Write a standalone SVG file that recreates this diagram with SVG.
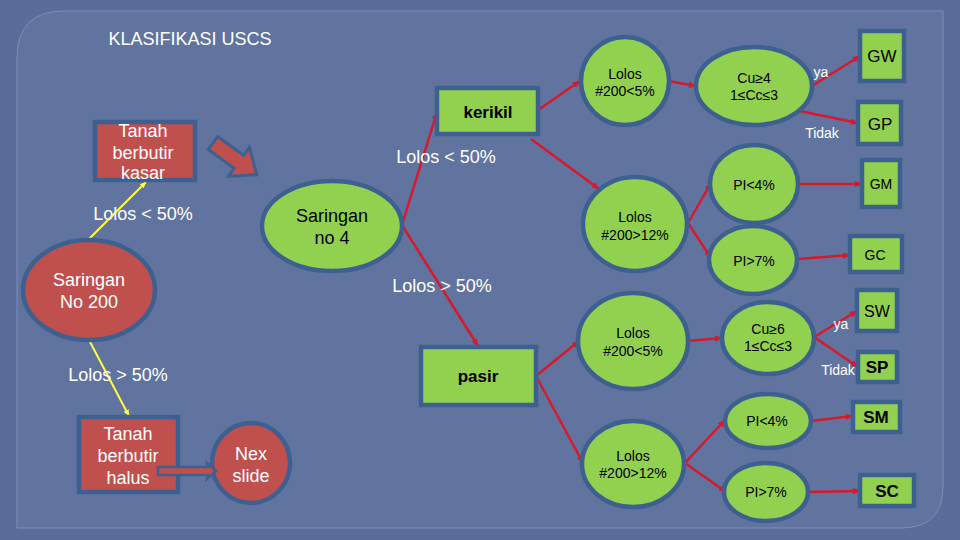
<svg xmlns="http://www.w3.org/2000/svg" width="960" height="540" viewBox="0 0 960 540">
<defs>
<marker id="ar" viewBox="0 0 10 10" refX="9" refY="5" markerWidth="3.2" markerHeight="3.2" orient="auto" markerUnits="strokeWidth"><path d="M0,1 L10,5 L0,9 z" fill="#d8182c"/></marker>
<marker id="ay" viewBox="0 0 10 10" refX="9" refY="5" markerWidth="3.5" markerHeight="3.5" orient="auto" markerUnits="strokeWidth"><path d="M0,1 L10,5 L0,9 z" fill="#ffff40"/></marker>
</defs>
<style>
.g{fill:#92d050;stroke:#3e6090;stroke-width:4.5}
.r{fill:#c0504d;stroke:#3e6090;stroke-width:4.5}
.t{font-family:"Liberation Sans",Arial,sans-serif;text-anchor:middle}
.w{fill:#ffffff;font-size:18px}
.b{fill:#000000;font-size:18px}
.s{fill:#000000;font-size:14px}
.sw{fill:#ffffff;font-size:14px}
.bb{fill:#000000;font-size:17px;font-weight:bold}
.cn{stroke:#d8182c;stroke-width:2.5;fill:none;marker-end:url(#ar)}
.yl{stroke:#ffff40;stroke-width:2;fill:none;marker-end:url(#ay)}
</style>
<rect x="0" y="0" width="960" height="540" fill="#5a6c9a"/>
<path d="M64,11 L943,11 L943,486 Q943,528 901,528 L17,528 L17,58 Q17,11 64,11 Z" fill="#61749f" stroke="#7d8eb8" stroke-width="1"/>
<text class="t w" x="190" y="45">KLASIFIKASI USCS</text>

<g id="connectors">
<line class="yl" x1="89" y1="239" x2="146" y2="182"/>
<line class="yl" x1="89" y1="340" x2="129" y2="416"/>
<line class="cn" x1="402" y1="225" x2="437" y2="112"/>
<line class="cn" x1="402" y1="225" x2="478" y2="346"/>
<line class="cn" x1="538" y1="110" x2="580" y2="81"/>
<line class="cn" x1="668" y1="81" x2="696" y2="86"/>
<line class="cn" x1="812" y1="86" x2="860" y2="56"/>
<line class="cn" x1="795" y1="110" x2="858" y2="123"/>
<line class="cn" x1="531" y1="139" x2="599" y2="189"/>
<line class="cn" x1="688" y1="223" x2="711" y2="183"/>
<line class="cn" x1="688" y1="223" x2="711" y2="258"/>
<line class="cn" x1="798" y1="184" x2="862" y2="184"/>
<line class="cn" x1="798" y1="259" x2="850" y2="255"/>
<line class="cn" x1="536" y1="376" x2="579" y2="341"/>
<line class="cn" x1="688" y1="341" x2="722" y2="338"/>
<line class="cn" x1="814" y1="337" x2="857" y2="311"/>
<line class="cn" x1="814" y1="337" x2="858" y2="367"/>
<line class="cn" x1="536" y1="376" x2="583" y2="463"/>
<line class="cn" x1="685" y1="463" x2="725" y2="420"/>
<line class="cn" x1="685" y1="463" x2="726" y2="492"/>
<line class="cn" x1="811" y1="421" x2="853" y2="416"/>
<line class="cn" x1="808" y1="492" x2="860" y2="491"/>
</g>

<g id="big-arrow">
<polygon transform="translate(213,143) rotate(36)" points="0,-8 32,-8 32,-18 54,0 32,18 32,8 0,8" fill="#c0504d" stroke="#3e6090" stroke-width="3"/>
</g>

<g id="tanah-kasar">
<rect class="r" x="95" y="122" width="100" height="58"/>
<text class="t w" x="143" y="137">Tanah</text>
<text class="t w" x="143" y="159">berbutir</text>
<text class="t w" x="143" y="179">kasar</text>
</g>

<text class="t w" x="143" y="220">Lolos &lt; 50%</text>

<g id="saringan-200">
<ellipse class="r" cx="89" cy="290" rx="66" ry="50"/>
<text class="t w" x="89" y="286">Saringan</text>
<text class="t w" x="89" y="308">No 200</text>
</g>

<text class="t w" x="118" y="381">Lolos &gt; 50%</text>

<g id="tanah-halus">
<rect class="r" x="79" y="417" width="99" height="75"/>
<text class="t w" x="128" y="440">Tanah</text>
<text class="t w" x="128" y="462">berbutir</text>
<text class="t w" x="128" y="484">halus</text>
</g>

<g id="nex-slide">
<ellipse class="r" cx="251" cy="463" rx="39" ry="40"/>
<text class="t w" x="251" y="460">Nex</text>
<text class="t w" x="251" y="482">slide</text>
</g>
<g id="small-arrow">
<polygon points="158,467 208,467 207,463 216,471 207,479 208,475 158,475" fill="#c0504d" stroke="#3e6090" stroke-width="2.5"/>
</g>

<g id="saringan-4">
<ellipse class="g" cx="332" cy="226" rx="70" ry="45"/>
<text class="t b" x="332" y="222">Saringan</text>
<text class="t b" x="332" y="244">no 4</text>
</g>

<text class="t w" x="446" y="163">Lolos &lt;  50%</text>
<text class="t w" x="442" y="292">Lolos &gt; 50%</text>

<g id="kerikil">
<rect class="g" x="437" y="88" width="101" height="46"/>
<text class="t bb" x="488" y="118">kerikil</text>
</g>
<g id="pasir">
<rect class="g" x="421" y="347" width="115" height="58"/>
<text class="t bb" x="478" y="382">pasir</text>
</g>

<g id="g-lolos5">
<ellipse class="g" cx="625" cy="81" rx="44" ry="44"/>
<text class="t s" x="625" y="79">Lolos</text>
<text class="t s" x="625" y="96">#200&lt;5%</text>
</g>
<g id="g-cu">
<ellipse class="g" cx="754" cy="86" rx="58" ry="39"/>
<text class="t s" x="754" y="83">Cu≥4</text>
<text class="t s" x="754" y="100">1≤Cc≤3</text>
</g>
<text class="t sw" x="821" y="77">ya</text>
<text class="t sw" x="822" y="138">Tidak</text>
<g id="gw"><rect class="g" x="860" y="31" width="44" height="50"/><text class="t b" x="882" y="62" style="font-size:17px">GW</text></g>
<g id="gp"><rect class="g" x="858" y="102" width="43" height="42"/><text class="t b" x="880" y="130" style="font-size:17px">GP</text></g>

<g id="g-lolos12">
<ellipse class="g" cx="635" cy="224" rx="52" ry="47"/>
<text class="t s" x="635" y="222">Lolos</text>
<text class="t s" x="635" y="240">#200&gt;12%</text>
</g>
<g id="g-pi4">
<ellipse class="g" cx="754" cy="184" rx="44" ry="39"/>
<text class="t s" x="754" y="190">PI&lt;4%</text>
</g>
<g id="g-pi7">
<ellipse class="g" cx="753" cy="260" rx="44" ry="34"/>
<text class="t s" x="754" y="266">PI&gt;7%</text>
</g>
<g id="gm"><rect class="g" x="862" y="160" width="38" height="47"/><text class="t s" x="881" y="189">GM</text></g>
<g id="gc"><rect class="g" x="850" y="236" width="52" height="36"/><text class="t s" x="875" y="260">GC</text></g>

<g id="s-lolos5">
<ellipse class="g" cx="633" cy="341" rx="55" ry="48"/>
<text class="t s" x="633" y="338">Lolos</text>
<text class="t s" x="633" y="356">#200&lt;5%</text>
</g>
<g id="s-cu">
<ellipse class="g" cx="768" cy="338" rx="46" ry="36"/>
<text class="t s" x="768" y="334">Cu≥6</text>
<text class="t s" x="768" y="351">1≤Cc≤3</text>
</g>
<text class="t sw" x="841" y="329">ya</text>
<text class="t sw" x="838" y="375">Tidak</text>
<g id="sw"><rect class="g" x="857" y="290" width="40" height="41"/><text class="t b" x="877" y="317" style="font-size:16px">SW</text></g>
<g id="sp"><rect class="g" x="858" y="352" width="39" height="30"/><text class="t bb" x="877" y="373">SP</text></g>

<g id="s-lolos12">
<ellipse class="g" cx="633" cy="464" rx="51" ry="43"/>
<text class="t s" x="633" y="461">Lolos</text>
<text class="t s" x="633" y="478">#200&gt;12%</text>
</g>
<g id="s-pi4">
<ellipse class="g" cx="768" cy="421" rx="43" ry="27"/>
<text class="t s" x="767" y="426">PI&lt;4%</text>
</g>
<g id="s-pi7">
<ellipse class="g" cx="766" cy="492" rx="42" ry="29"/>
<text class="t s" x="766" y="497">PI&gt;7%</text>
</g>
<g id="sm"><rect class="g" x="853" y="402" width="47" height="30"/><text class="t bb" x="876" y="423">SM</text></g>
<g id="sc"><rect class="g" x="860" y="475" width="54" height="31"/><text class="t bb" x="887" y="497">SC</text></g>
</svg>
